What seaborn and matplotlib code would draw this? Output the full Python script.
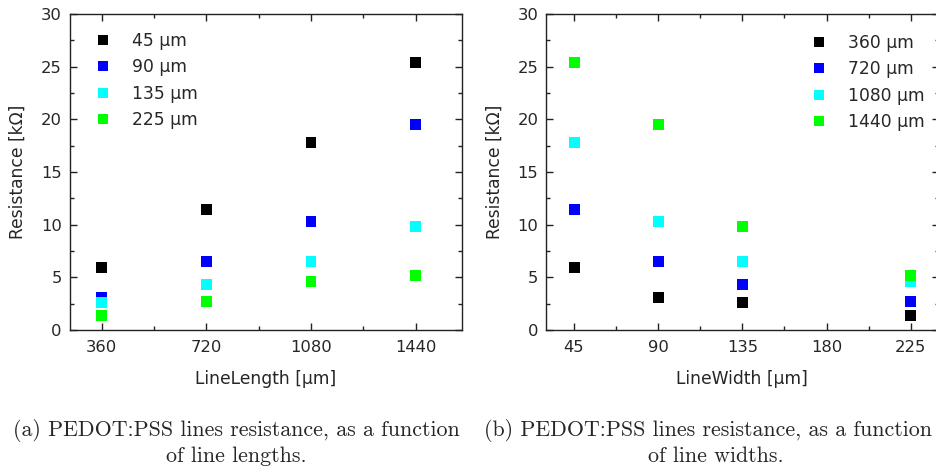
import numpy as np
import pandas as pd
import matplotlib
matplotlib.use("Agg")
import matplotlib.pyplot as plt
from matplotlib.ticker import MultipleLocator
import seaborn as sns

# Measured resistance (kOhm) of PEDOT:PSS lines
line_lengths = [360, 720, 1080, 1440]          # um
line_widths = [45, 90, 135, 225]               # um
res_w45 = [5.9, 11.4, 17.8, 25.4]              # per length, width 45 um
res_w90 = [3.1, 6.5, 10.3, 19.5]               # width 90 um
res_w135 = [2.6, 4.3, 6.5, 9.8]                # width 135 um
res_w225 = [1.4, 2.7, 4.6, 5.2]                # width 225 um

series_colors = ["#000000", "#0000ff", "#00ffff", "#00ff00"]

rows = []
for w, vals in zip(line_widths, [res_w45, res_w90, res_w135, res_w225]):
    for L, r in zip(line_lengths, vals):
        rows.append({"width": w, "length": L, "R": r})
df = pd.DataFrame(rows)
df["width_lbl"] = df["width"].map(lambda v: f"{v} \u00b5m")
df["length_lbl"] = df["length"].map(lambda v: f"{v} \u00b5m")

sns.set_style("ticks")
plt.rcParams["font.family"] = ["DejaVu Sans"]
plt.rcParams["axes.linewidth"] = 1.0

fig = plt.figure(figsize=(9.36, 4.70), dpi=100)
W, H = 936, 470
ax_a = fig.add_axes([69.5 / W, (H - 330) / H, 392.8 / W, 316 / H])
ax_b = fig.add_axes([546 / W, (H - 330) / H, 392.8 / W, 316 / H])

marker_s = 62

# (a) resistance vs line length, one series per width
df_a = df.sort_values(["width", "length"])
sns.scatterplot(data=df_a, x="length", y="R", hue="width_lbl",
                hue_order=[f"{w} \u00b5m" for w in line_widths],
                palette=series_colors, marker="s", s=marker_s,
                linewidth=0, ax=ax_a)

# (b) resistance vs line width, one series per length
df_b = df.sort_values(["length", "width"])
sns.scatterplot(data=df_b, x="width", y="R", hue="length_lbl",
                hue_order=[f"{L} \u00b5m" for L in line_lengths],
                palette=series_colors, marker="s", s=marker_s,
                linewidth=0, ax=ax_b)

tick_fs = 11.8
label_fs = 12.3

def style_axes(ax, xlim, xminor, xticks, xlabel):
    ax.set_xlim(*xlim)
    ax.set_ylim(0, 30)
    ax.set_xticks(xticks)
    ax.xaxis.set_minor_locator(MultipleLocator(xminor))
    ax.yaxis.set_major_locator(MultipleLocator(5))
    ax.yaxis.set_minor_locator(MultipleLocator(2.5))
    ax.tick_params(which="both", direction="in", top=True, right=True,
                   color="#222222", width=1.0, labelsize=tick_fs)
    ax.tick_params(which="major", length=5)
    ax.tick_params(which="minor", length=3)
    ax.tick_params(axis="y", pad=5.5)
    ax.tick_params(axis="x", pad=7.5)
    for sp in ax.spines.values():
        sp.set_visible(True)
        sp.set_color("#222222")
    ax.set_xlabel(xlabel, fontsize=label_fs)
    ax.set_ylabel("Resistance [k\u03a9]", fontsize=label_fs)
    ax.xaxis.set_label_coords(0.5, -0.127)
    ax.yaxis.set_label_coords(-0.108, 0.5)

style_axes(ax_a, (250, 1600), 180, line_lengths, "LineLength [\u00b5m]")
style_axes(ax_b, (30, 240), 22.5, [45, 90, 135, 180, 225], "LineWidth [\u00b5m]")

def place_legend(ax, anchor):
    handles, labels = ax.get_legend_handles_labels()
    leg = ax.legend(handles, labels, loc="upper left", bbox_to_anchor=anchor,
                    frameon=False, fontsize=label_fs, handlelength=1.0,
                    handletextpad=1.2, labelspacing=0.5, borderpad=0,
                    borderaxespad=0)
    return leg

place_legend(ax_a, (0.064, 0.944))
place_legend(ax_b, (0.673, 0.938))

# Sub-figure captions
cap_fs = 15.8
fig.text(236 / W, 1 - 431 / H, "(a) PEDOT:PSS lines resistance, as a function",
         ha="center", va="center", family="cmr10", fontsize=cap_fs)
fig.text(236 / W, 1 - 456 / H, "of line lengths.",
         ha="center", va="center", family="cmr10", fontsize=cap_fs)
fig.text(484 / W, 1 - 431 / H, "(b) PEDOT:PSS lines resistance, as a function",
         ha="left", va="center", family="cmr10", fontsize=cap_fs)
fig.text(716 / W, 1 - 456 / H, "of line widths.",
         ha="center", va="center", family="cmr10", fontsize=cap_fs)

fig.savefig("out.png", dpi=100)
